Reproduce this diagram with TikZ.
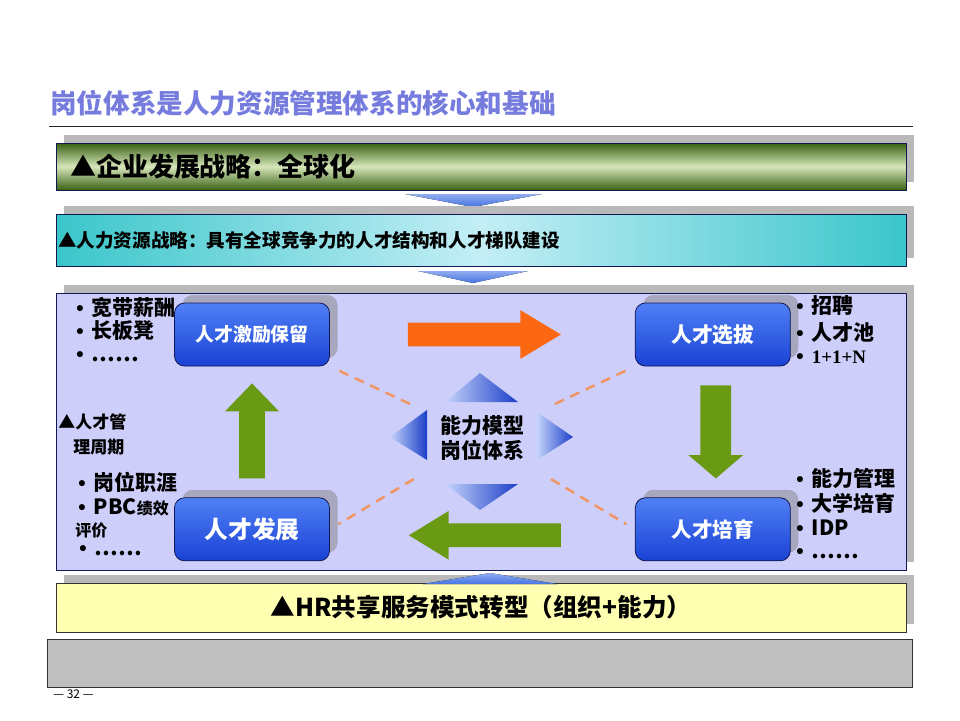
\documentclass[tikz,border=0pt]{standalone}
\usepackage{fontspec}
\setmainfont{Noto Sans CJK SC}
\newfontfamily\serifnum{Liberation Serif}
\newfontfamily\dotfont{Liberation Sans}
\usetikzlibrary{positioning,calc,shadows,shapes.arrows}
\definecolor{titleblue}{RGB}{118,124,222}
\definecolor{panel}{RGB}{206,206,250}
\definecolor{navy}{RGB}{20,24,80}
\definecolor{boxtop}{RGB}{80,128,246}
\definecolor{boxbot}{RGB}{26,66,212}
\definecolor{leafdark}{RGB}{56,98,20}
\definecolor{leaflight}{RGB}{214,230,186}
\definecolor{teal1}{RGB}{58,198,202}
\definecolor{teal2}{RGB}{196,238,246}
\definecolor{sand}{RGB}{255,255,178}
\definecolor{flame}{RGB}{252,104,18}
\definecolor{grass}{RGB}{106,154,20}
\definecolor{salmon}{RGB}{240,150,100}
\definecolor{sky}{RGB}{70,116,228}
\definecolor{skylight}{RGB}{196,212,250}
\definecolor{skydark}{RGB}{28,62,200}
\newcommand{\bul}{{\dotfont •}\hspace{4pt}}

\begin{document}
\begin{tikzpicture}[x=0.5pt, y=-0.5pt, font=\bfseries,
    bar/.style = { draw=navy, minimum width=425pt, general shadow={fill=gray!55, shadow xshift=4pt, shadow yshift=4pt} },
    box/.style = { draw=navy, rounded corners=5pt, top color=boxtop, bottom color=boxbot, text=white,
                   minimum width=77.5pt, minimum height=31.5pt,
                   general shadow={fill=gray!50!panel, shadow xshift=4pt, shadow yshift=4pt} },
    flow/.style = { single arrow, draw=none, inner sep=0pt, outer sep=0pt, minimum width=0pt },
    link/.style = { draw=salmon, line width=1.25pt, dash pattern=on 5pt off 3.5pt, shorten <=40pt, shorten >=5pt },
    item/.style = { anchor=west, inner sep=0pt, font=\bfseries\fontsize{10.5}{12}\selectfont },
    note/.style = { anchor=west, inner sep=0pt, font=\bfseries\fontsize{8}{9}\selectfont },
    tip/.style = { left color=skylight, right color=skydark }]
  \useasboundingbox[fill=white] (0,0) rectangle (960,720);

  \node[anchor=west, inner sep=0pt, text=titleblue, font=\bfseries\fontsize{13.3}{16}\selectfont] (title) at (50,103) {岗位体系是人力资源管理体系的核心和基础};
  \draw[gray!30!black] (49,126) -- (913,126);

  \node[bar, top color=leafdark, bottom color=leafdark, middle color=leaflight, minimum height=23.5pt,
        text width=411pt, inner xsep=7pt, font=\bfseries\fontsize{13}{15}\selectfont] (strategy) at (481,166.5) {▲企业发展战略：全球化};
  \fill[top color=sky!60, bottom color=sky] (405,194) -- (542,194) -- (473,207) -- cycle;
  \node[bar, left color=teal1, right color=teal1, middle color=teal2, minimum height=26pt,
        text width=423pt, inner xsep=1pt, font=\bfseries\fontsize{9.3}{11}\selectfont] (hrplan) at (481,240) {▲人力资源战略：具有全球竞争力的人才结构和人才梯队建设};
  \fill[top color=sky!60, bottom color=sky] (418,271) -- (528,271) -- (473,283) -- cycle;

  \node[bar, fill=panel, minimum height=138.5pt] (cycle) at (481,431.5) {};

  \node[box, font=\bfseries\fontsize{9.4}{11}\selectfont] (jili) at (252,334.5) {人才激励保留};
  \node[box, right=152.5pt of jili, font=\bfseries\fontsize{10.4}{12}\selectfont] (xuanba) {人才选拔};
  \node[box, below=65.5pt of jili, font=\bfseries\fontsize{11.9}{14}\selectfont] (fazhan) {人才发展};
  \node[box, below=65.5pt of xuanba, font=\bfseries\fontsize{10.3}{12}\selectfont] (peiyu) {人才培育};

  \node[flow, fill=flame, minimum height=76.5pt, inner ysep=5.75pt, single arrow head extend=6.25pt,
        single arrow tip angle=62, right=39pt of jili, anchor=tail] {};
  \node[flow, fill=grass, minimum height=46.5pt, inner xsep=7.5pt, single arrow head extend=6pt,
        single arrow tip angle=99, shape border rotate=270, below=9.5pt of xuanba, anchor=tail, xshift=1.5pt] {};
  \node[flow, fill=grass, minimum height=76pt, inner ysep=5.75pt, single arrow head extend=6.25pt,
        single arrow tip angle=63, shape border rotate=180, left=37pt of peiyu, anchor=tail, yshift=-3pt] {};
  \node[flow, fill=grass, minimum height=47.5pt, inner xsep=6.25pt, single arrow head extend=7pt,
        single arrow tip angle=88, shape border rotate=90, above=9.5pt of fazhan, anchor=tail] {};

  \node[align=center, inner sep=0pt, font=\bfseries\fontsize{10.5}{12.5}\selectfont, yshift=-3pt] (core)
       at ($(jili)!0.5!(peiyu)$) {能力模型\\岗位体系};
  \shade[tip] (445,402) -- (518,402) -- (480,373) -- cycle;
  \shade[tip] (445,484) -- (518,484) -- (480,510) -- cycle;
  \shade[tip] (390,437) -- (427,410) -- (427,460) -- cycle;
  \shade[tip] (537,412) -- (537,460) -- (573,437) -- cycle;

  \draw[link] (core.center) -- (jili.south east);
  \draw[link] (core.center) -- (fazhan.east);
  \draw[link] (core.center) -- (xuanba.south west);
  \draw[link] (core.center) -- (peiyu.west);

  \node[item] (pay) at (76,307) {\bul 宽带薪酬};
  \node[item] (bench) at (76,331) {\bul 长板凳};
  \node[item] (more1) at (76,357) {\bul ……};
  \node[note, font=\bfseries\fontsize{8.5}{10}\selectfont] (cyclea) at (58,422) {▲人才管};
  \node[note, font=\bfseries\fontsize{8.5}{10}\selectfont] (cycleb) at (73,447) {理周期};
  \node[item] (career) at (78,482) {\bul 岗位职涯};
  \node[item] (pbc) at (78,507) {\bul PBC{\fontsize{8}{9}\selectfont 绩效}};
  \node[note] (review) at (75,530) {评价};
  \node[item] (more2) at (79,551) {\bul ……};

  \node[item] (hire) at (796,306) {\bul 招聘};
  \node[item] (pool) at (796,332) {\bul 人才池};
  \node[item] (nplus) at (796,357) {\bul {\serifnum\fontsize{9.5}{11}\selectfont 1+1+N}};
  \node[item] (ability) at (796,478) {\bul 能力管理};
  \node[item] (campus) at (796,503) {\bul 大学培育};
  \node[item] (idp) at (796,528) {\bul IDP};
  \node[item] (more3) at (796,554) {\bul ……};

  \node[bar, fill=sand, draw=gray!40!black, minimum height=24.5pt, font=\bfseries\fontsize{12.3}{14}\selectfont] (shared) at (481,607.5) {▲HR共享服务模式转型（组织+能力）};
  \fill[top color=sky!60, bottom color=sky] (490,573) -- (557,584) -- (423,584) -- cycle;
  \node[draw=gray!40!black, fill=gray!50, minimum width=432.5pt, minimum height=24pt] (blank) at (479.5,663) {};
  \node[anchor=west, inner sep=0pt, font=\fontsize{6}{7}\selectfont] (page) at (53,694) {— 32 —};
\end{tikzpicture}
\end{document}
